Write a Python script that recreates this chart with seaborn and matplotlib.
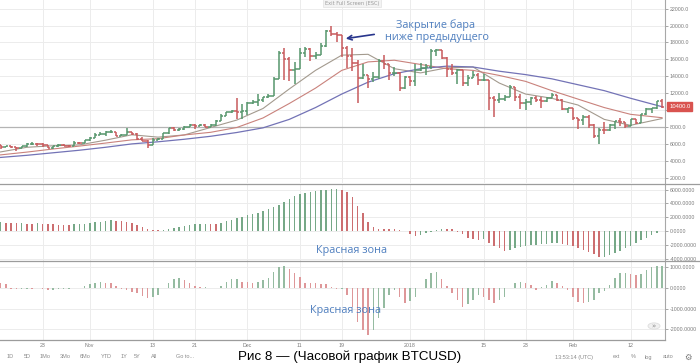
import numpy as np
import matplotlib
matplotlib.use("Agg")
import matplotlib.pyplot as plt
import seaborn as sns
from matplotlib.lines import Line2D
from matplotlib.patches import Circle

# daily BTCUSD bars, 15 Oct 2017 .. 18 Feb 2018
open_ = [5830, 5690, 5750, 5600, 5570, 5700, 5980, 6010, 5980, 5900,
         5500, 5740, 5890, 5770, 5730, 6150, 6130, 6450, 6750, 7030,
         7150, 7380, 7380, 6960, 7100, 7450, 7140, 6570, 6340, 5880,
         6520, 6600, 7280, 7850, 7700, 7780, 8040, 8230, 8100, 8230,
         8010, 8200, 8750, 9280, 9720, 9890, 9800, 9900, 10850, 10900,
         11240, 11600, 11700, 13700, 16800, 16000, 14700, 14900, 16700, 17200,
         16400, 16500, 17600, 19300, 19000, 18900, 17300, 16400, 15600, 13800,
         14200, 13700, 13900, 15800, 15400, 14400, 14400, 12600, 13900, 13400,
         14750, 15000, 15100, 17000, 17100, 16200, 14900, 14400, 14800, 13200,
         13850, 14200, 13600, 13600, 11400, 11200, 11300, 11500, 12750, 11500,
         10800, 10900, 11400, 11200, 11100, 11450, 11750, 11250, 10100, 10200,
         9100, 8800, 9200, 8200, 6900, 7700, 7600, 8200, 8700, 8550,
         8100, 8900, 8500, 9500, 10100, 10200, 11100]
high = [5860, 5790, 5770, 5620, 5730, 6070, 6190, 6070, 6060, 5900,
        5770, 5970, 6000, 5850, 6300, 6230, 6470, 6770, 7300, 7450,
        7490, 7600, 7410, 7200, 7880, 7450, 7300, 6860, 6480, 6750,
        6700, 7330, 7900, 7990, 7860, 8100, 8300, 8360, 8300, 8300,
        8350, 8800, 9500, 9730, 9970, 11400, 10700, 10900, 11140, 11850,
        11600, 11900, 13900, 17000, 17300, 16300, 15700, 17400, 17500, 17300,
        16900, 17900, 19500, 19900, 19200, 18900, 17600, 17300, 15900, 15500,
        14200, 14500, 16100, 16500, 15500, 15100, 14500, 14000, 14000, 15400,
        15600, 15400, 17200, 17250, 17100, 16300, 15400, 14900, 14800, 14100,
        14600, 14400, 14300, 13600, 11700, 12000, 11800, 13000, 12750, 11900,
        11300, 11500, 11700, 11600, 11600, 12000, 11800, 11300, 10300, 10200,
        9100, 9400, 9400, 8400, 7900, 8600, 8300, 8700, 9100, 8600,
        8950, 8950, 9500, 10200, 10300, 11100, 11300]
low = [5420, 5590, 5500, 5110, 5560, 5630, 5920, 5730, 5650, 5460,
       5400, 5690, 5720, 5690, 5700, 6030, 6100, 6380, 6750, 7000,
       6990, 7300, 6940, 6960, 7050, 7060, 6470, 6290, 5500, 5830,
       6430, 6600, 7120, 7500, 7470, 7690, 7990, 7800, 8100, 7990,
       8000, 8150, 8730, 9280, 9700, 8900, 9000, 9400, 10700, 10500,
       10900, 11450, 11700, 13700, 13600, 13500, 13100, 14900, 16300, 15800,
       16000, 16500, 17500, 18800, 18000, 16300, 15000, 14600, 10800, 13700,
       12600, 13300, 13700, 14900, 13600, 14000, 12200, 12500, 12800, 12900,
       14600, 14200, 14900, 16400, 16000, 13900, 14200, 13100, 12800, 12800,
       13800, 13000, 13400, 10000, 9200, 10800, 11100, 11500, 11100, 10100,
       10000, 10600, 10900, 10300, 10900, 11400, 11100, 10000, 9700, 8800,
       7800, 8200, 7900, 6700, 6000, 7200, 7500, 7800, 8100, 7900,
       8100, 8400, 8500, 9400, 9700, 10100, 10300]
close = [5690, 5750, 5600, 5570, 5700, 5980, 6010, 5980, 5900, 5500,
         5740, 5890, 5770, 5730, 6150, 6130, 6450, 6750, 7030, 7150,
         7380, 7380, 6960, 7100, 7450, 7140, 6570, 6340, 5880, 6520,
         6600, 7280, 7850, 7700, 7780, 8040, 8230, 8100, 8230, 8010,
         8200, 8750, 9280, 9720, 9890, 9800, 9900, 10850, 10900, 11240,
         11600, 11700, 13700, 16800, 16000, 14700, 14900, 16700, 17200, 16400,
         16500, 17600, 19300, 19000, 18900, 17300, 16400, 15600, 13800, 14200,
         13700, 13900, 15800, 15400, 14400, 14400, 12600, 13900, 13400, 14750,
         15000, 15100, 17000, 17100, 16200, 14900, 14400, 14800, 13200, 13850,
         14200, 13600, 13600, 11400, 11200, 11300, 11500, 12750, 11500, 10800,
         10900, 11400, 11200, 11100, 11450, 11750, 11250, 10100, 10200, 9100,
         8800, 9200, 8200, 6900, 7700, 7600, 8200, 8700, 8550, 8100,
         8900, 8500, 9500, 10100, 10200, 11100, 10400]

# moving averages, read at every 5th bar
ma_idx = [0, 5, 10, 15, 20, 25, 30, 35, 40, 45, 50, 55, 60, 65,
          70, 75, 80, 85, 90, 95, 100, 105, 110, 115, 120, 126]
ma_fast = [5050, 5600, 5780, 5880, 6440, 7080, 6800, 7060, 7940, 8820, 10190, 12500, 14700, 16500,
           16600, 14900, 14400, 15000, 15100, 13200, 11900, 11400, 10600, 8900, 8200, 9000]
ma_mid = [4700, 5030, 5400, 5740, 6100, 6480, 6620, 7060, 7370, 7940, 9070, 10780, 12600, 14700,
          15700, 15900, 15400, 14900, 14700, 14100, 13400, 12300, 11300, 10300, 9500, 9100]
ma_slow = [4400, 4650, 4950, 5250, 5600, 6000, 6250, 6550, 6900, 7350, 7900, 8900, 10300, 11900,
           13300, 14300, 14900, 15200, 15100, 14600, 14200, 13700, 13000, 12300, 11400, 10400]

# awesome oscillator (middle pane)
ao = [1250, 1200, 1150, 1100, 1100, 1050, 1040, 1100, 1050, 1000,
      950, 940, 900, 880, 950, 1000, 1080, 1150, 1250, 1350,
      1450, 1550, 1500, 1400, 1300, 1150, 900, 600, 250, 100,
      80, 120, 250, 450, 600, 750, 850, 950, 1000, 1050,
      1000, 950, 1150, 1400, 1650, 1850, 2050, 2250, 2450, 2650,
      2900, 3150, 3500, 3800, 4200, 4700, 5050, 5400, 5550, 5650,
      5800, 5900, 6000, 6050, 6100, 6000, 5600, 4950, 3650, 2550,
      1350, 650, 300, 280, 260, 240, 150, 30, -450, -750,
      -650, -350, -150, 150, 350, 330, 250, -100, -450, -1000,
      -1150, -1250, -1200, -1700, -2150, -2500, -2850, -2750, -2500, -2300,
      -2150, -2050, -2000, -1950, -1850, -1800, -1750, -1850, -2000, -2200,
      -2500, -2750, -3050, -3400, -3750, -3700, -3450, -3150, -2850, -2500,
      -2150, -1800, -1350, -950, -600, -250, 50]

# accelerator oscillator (bottom pane)
ac = [225, 190, -30, -60, -30, -30, -50, -15, -50, -80,
      -80, -60, -60, -50, 0, 15, 100, 180, 260, 270,
      260, 225, 100, -60, -100, -180, -260, -390, -500, -450,
      -340, -15, 225, 420, 470, 390, 225, 100, 30, 30,
      -15, 0, 100, 300, 435, 440, 300, 270, 225, 300,
      390, 470, 790, 1030, 1060, 900, 710, 550, 260, 225,
      220, 210, 190, 60, -30, -30, -340, -900, -1630, -2030,
      -2270, -2030, -1470, -980, -340, -100, -420, -710, -610, -420,
      0, 420, 740, 790, 420, 100, -250, -580, -900, -770,
      -580, -340, -450, -580, -710, -580, -420, 0, 260, 300,
      260, 145, -100, 50, 145, 340, 260, 100, -100, -420,
      -660, -710, -660, -580, -260, -130, 145, 470, 710, 740,
      700, 620, 700, 870, 1000, 1050, 1060]

tick_pos = [8, 17, 29, 37, 47, 57, 65, 78, 92, 100, 109, 120]
tick_lbl = ['23', 'Nov', '13', '21', 'Dec', '11', '19', '2018', '15', '23', 'Feb', '12']

GREEN, RED = '#56966c', '#c85a5c'
AO_COL = {'up': '#76a887', 'down': '#cc6e70'}
AC_COL = {'up': '#95bba1', 'down': '#de9799'}
GRID = '#ececec'
LAB = '#7a7a7a'

plt.rcParams['font.family'] = ['DejaVu Sans']
W, H = 700, 364
fig = plt.figure(figsize=(7, 3.64), dpi=100)


def fx(px):
    return px / W


def fy(py):
    return 1 - py / H


ax1 = fig.add_axes([0, fy(183), fx(665), 183 / H])
ax2 = fig.add_axes([0, fy(261), fx(665), 77 / H])
ax3 = fig.add_axes([0, fy(340), fx(665), 79 / H])

n = len(close)
idx = np.arange(n)
o = np.array(open_)
c = np.array(close)
col = np.where(c >= o, GREEN, RED)

# OHLC bars
ax1.vlines(idx, low, high, colors=col, lw=1.1, zorder=3)
ax1.hlines(o, idx - 0.45, idx, colors=col, lw=1.1, zorder=3)
ax1.hlines(c, idx, idx + 0.45, colors=col, lw=1.1, zorder=3)

sns.lineplot(x=ma_idx, y=ma_fast, ax=ax1, color='#a39a8e', lw=0.8, zorder=2)
sns.lineplot(x=ma_idx, y=ma_mid, ax=ax1, color='#c9827c', lw=0.8, zorder=2)
sns.lineplot(x=ma_idx, y=ma_slow, ax=ax1, color='#7373b6', lw=0.9, zorder=2)
ax1.axhline(8000, color='#b4b4b4', lw=0.9, zorder=1)


def direction(vals, first):
    out = [first]
    for a, b in zip(vals[:-1], vals[1:]):
        out.append('up' if b >= a else 'down')
    return out


sns.barplot(x=idx, y=ao, hue=direction(ao, 'up'), palette=AO_COL, native_scale=True,
            width=0.28, dodge=False, legend=False, saturation=1, linewidth=0,
            errorbar=None, ax=ax2)
sns.barplot(x=idx, y=ac, hue=direction(ac, 'down'), palette=AC_COL, native_scale=True,
            width=0.28, dodge=False, legend=False, saturation=1, linewidth=0,
            errorbar=None, ax=ax3)

panes = [
    (ax1, (1375, 23025), np.arange(2000, 22001, 2000), '{:.1f}'),
    (ax2, (-4348, 6812), np.arange(-4000, 6001, 2000), '{:.4f}'),
    (ax3, (-2512, 1304), np.arange(-2000, 1001, 1000), '{:.4f}'),
]
for ax, ylim, yt, fmt in panes:
    ax.set_xlim(-0.1, -0.1 + 665 / 5.25)
    ax.set_ylim(*ylim)
    ax.set_yticks(yt)
    ax.set_yticklabels([fmt.format(v) for v in yt])
    ax.yaxis.tick_right()
    ax.tick_params(axis='y', length=2, width=0.6, color='#999999', pad=1.5,
                   labelsize=3.8, labelcolor=LAB)
    ax.set_xticks(tick_pos)
    ax.set_xticklabels(tick_lbl)
    ax.tick_params(axis='x', length=0, pad=2, labelsize=3.8, labelcolor=LAB)
    ax.grid(True, color=GRID, lw=0.7)
    ax.set_axisbelow(True)
    ax.set_xlabel('')
    ax.set_ylabel('')
    for s in ['top', 'left', 'bottom']:
        ax.spines[s].set_visible(False)
    ax.spines['right'].set_color('#a8a8a8')
    ax.spines['right'].set_linewidth(0.8)
    for lbl in ax.get_yticklabels():
        lbl.set_family('Liberation Sans')
    for lbl in ax.get_xticklabels():
        lbl.set_family('Liberation Sans')

ax1.tick_params(axis='x', labelbottom=False)
ax2.tick_params(axis='x', labelbottom=False)

# pane separators
for py in [183.5, 261, 340]:
    fig.add_artist(Line2D([0, 1 if py < 340 else fx(665)], [fy(py), fy(py)],
                          transform=fig.transFigure, color='#9c9c9c', lw=0.9))

# last price tag
ax1.annotate('10400.0', xy=(1.0, 10400), xycoords=('axes fraction', 'data'),
             xytext=(3, 0), textcoords='offset points', ha='left', va='center',
             fontsize=4.2, color='white', family='Liberation Sans', annotation_clip=False,
             bbox=dict(boxstyle='square,pad=0.35', fc='#d9534f', ec='#d9534f'))

# top "exit full screen" hint
fig.text(fx(352), fy(3), 'Exit Full Screen (ESC)', ha='center', va='center', fontsize=3.6,
         color='#9a9a9a', bbox=dict(boxstyle='square,pad=0.3', fc='#f3f3f3', ec='#e2e2e2', lw=0.5))

# annotations
note = dict(color='#4f7fbf', family=['Open Sans', 'DejaVu Sans'], fontsize=7.8)
fig.text(fx(436), fy(25), 'Закрытие бара', ha='center', va='center', **note)
fig.text(fx(437), fy(37.5), 'ниже предыдущего', ha='center', va='center', **note)
fig.text(fx(351), fy(251), 'Красная зона', ha='center', va='center', **note)
fig.text(fx(346), fy(310), 'Красная зона', ha='center', va='center', **note)

arrow = dict(arrowstyle='->', color='#28358c', lw=1.2, mutation_scale=8)
for tail, head in [((377, 34), (343, 39)), ((341, 244), (341, 232)), ((341, 302), (341, 289))]:
    ax1.annotate('', xy=(head[0], H - head[1]), xytext=(tail[0], H - tail[1]),
                 xycoords='figure pixels', textcoords='figure pixels',
                 arrowprops=arrow, annotation_clip=False)

# scroll button
fig.add_artist(Circle((fx(654), fy(326)), 6 / W, transform=fig.transFigure,
                      fc='#f1f1f1', ec='#dddddd', lw=0.6))
fig.text(fx(654), fy(326), '»', ha='center', va='center', fontsize=5, color='#888888')

# bottom toolbar
for txt, px in [('1D', 10), ('5D', 27), ('1Mo', 45), ('3Mo', 65), ('6Mo', 85), ('YTD', 106),
                ('1Y', 124), ('5Y', 137), ('All', 154), ('Go to...', 185),
                ('13:53:14 (UTC)', 574), ('ext', 616), ('%', 633), ('log', 648), ('auto', 668)]:
    fig.text(fx(px), fy(357), txt, ha='center', va='center', fontsize=4, color='#8a8a8a',
             family='Liberation Sans')
fig.text(fx(688), fy(357), '⚙', ha='center', va='center', fontsize=6, color='#777777')

fig.text(fx(350), fy(357), 'Рис 8 — (Часовой график BTCUSD)', ha='center', va='center',
         fontsize=9.6, color='black', family=['Liberation Sans', 'DejaVu Sans'])

fig.savefig('out.png', dpi=100, facecolor='white')
